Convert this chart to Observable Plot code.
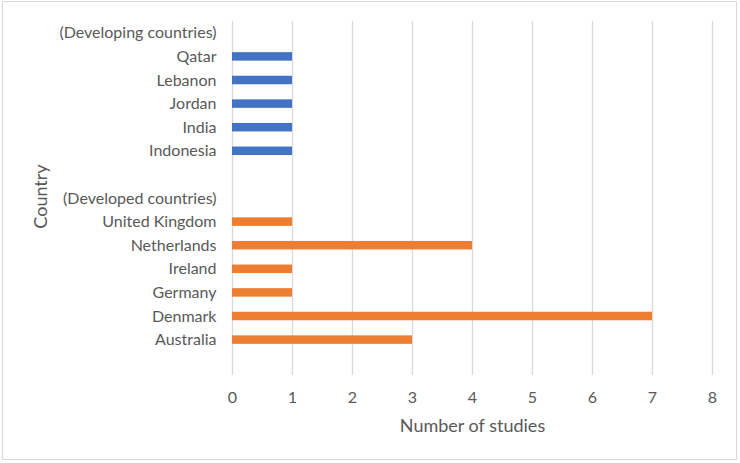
<!DOCTYPE html>
<html>
<head>
<meta charset="utf-8">
<script src="https://cdn.jsdelivr.net/npm/d3@7"></script>
<script src="https://cdn.jsdelivr.net/npm/@observablehq/plot@0.6"></script>
<style>
  html, body { margin: 0; padding: 0; background: #fff; }
  #wrap { position: relative; width: 740px; height: 463px; }
  #border { position: absolute; left: 2px; top: 1px; width: 735px; height: 459px; border: 1px solid #d9d9d9; box-sizing: border-box; pointer-events: none; }
</style>
</head>
<body>
<div id="wrap"><div id="border"></div></div>
<script>
const categories = ["(Developing countries)", "Qatar", "Lebanon", "Jordan", "India", "Indonesia", "",
  "(Developed countries)", "United Kingdom", "Netherlands", "Ireland", "Germany", "Denmark", "Australia", " "];
const developingCountries = ["Qatar", "Lebanon", "Jordan", "India", "Indonesia"];
const developingValues = [1, 1, 1, 1, 1];
const developedCountries = ["United Kingdom", "Netherlands", "Ireland", "Germany", "Denmark", "Australia"];
const developedValues = [1, 4, 1, 1, 7, 3];
const xTicks = [0, 1, 2, 3, 4, 5, 6, 7, 8];
const xTitle = "Number of studies";
const yTitle = "Country";

const developing = developingCountries.map((c, i) => ({country: c, value: developingValues[i]}));
const developed = developedCountries.map((c, i) => ({country: c, value: developedValues[i]}));

const font = "Lato, 'Open Sans', sans-serif";
const chart = Plot.plot({
  width: 740,
  height: 463,
  marginLeft: 232,
  marginRight: 28,
  marginTop: 21,
  marginBottom: 88,
  style: {fontFamily: font, fontSize: "16px", color: "#595959", background: "transparent"},
  x: {domain: [0, 8], ticks: xTicks, label: null},
  y: {domain: categories, paddingInner: 0.64, paddingOuter: 0.32, round: false, label: null},
  marks: [
    Plot.gridX(xTicks, {stroke: "#d9d9d9", strokeOpacity: 1, strokeWidth: 1.3}),
    Plot.barX(developing, {x: "value", y: "country", fill: "#4472C4"}),
    Plot.barX(developed, {x: "value", y: "country", fill: "#ED7D31"}),
    Plot.axisX({ticks: xTicks, tickSize: 0, tickPadding: 16, label: null, fill: "#595959", fontSize: 16}),
    Plot.axisY({tickSize: 0, tickPadding: 16, label: null, fill: "#595959", fontSize: 16}),
    Plot.text([xTitle], {frameAnchor: "bottom", dy: 56, fontSize: 18, fill: "#595959"}),
    Plot.text([yTitle], {frameAnchor: "left", textAnchor: "middle", dx: -191, dy: -2, rotate: -90, fontSize: 18, fill: "#595959"})
  ]
});
document.getElementById("wrap").prepend(chart);
</script>
</body>
</html>
